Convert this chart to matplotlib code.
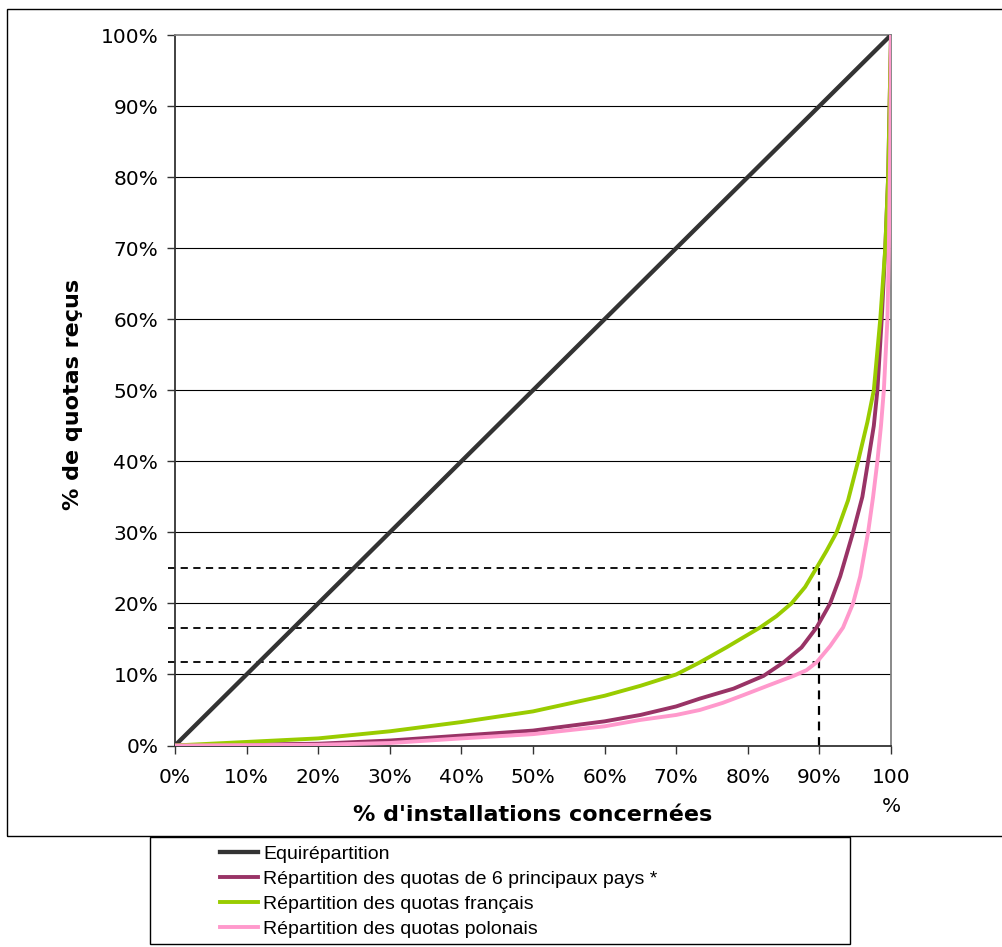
import matplotlib
matplotlib.use("Agg")
import matplotlib.pyplot as plt
from matplotlib.patches import Rectangle
from matplotlib.ticker import FixedLocator

# ---- data (percent) ----
x_equi = [0, 100]
y_equi = [0, 100]

x_six = [0, 20, 30, 40, 50, 60, 65, 70, 73.3, 78, 82.2, 85, 87.5, 89.6, 91.5, 92.9, 94.7, 96, 96.8, 97.6, 98.1, 98.7, 99.2, 99.6, 100]
y_six = [0, 0.25, 0.7, 1.4, 2.1, 3.4, 4.3, 5.5, 6.6, 8.0, 9.8, 11.7, 13.8, 16.6, 20, 23.8, 30, 35, 40, 45, 50, 60, 70, 80, 100]

x_fr = [0, 10, 20, 30, 40, 50, 60, 65, 70, 73.3, 77, 81.7, 84, 86.1, 88, 89.6, 91, 92.4, 94, 95.4, 96.7, 97.6, 98.5, 99.2, 99.6, 99.8, 100]
y_fr = [0, 0.5, 1.0, 2.0, 3.3, 4.8, 7.0, 8.4, 10.0, 11.7, 13.8, 16.6, 18.2, 20, 22.3, 25, 27.4, 30, 34.5, 40, 45.5, 50, 60, 70, 80, 90, 100]

x_pl = [0, 20, 30, 40, 50, 60, 65, 70, 73.3, 76.5, 79.4, 83, 86.4, 88.2, 89.6, 91.5, 93.3, 94.7, 95.7, 96.8, 97.5, 98.1, 98.6, 99.0, 99.5, 99.7, 99.9, 100]
y_pl = [0, 0.1, 0.35, 1.0, 1.6, 2.7, 3.6, 4.3, 5.0, 6.0, 7.1, 8.5, 9.8, 10.6, 11.7, 14, 16.6, 20, 23.8, 30, 35, 40, 45, 50, 60, 70, 85, 100]

ref_x = 90
ref_levels = [25.0, 16.6, 11.7]

x_ticks = [0, 10, 20, 30, 40, 50, 60, 70, 80, 90, 100]
x_tick_labels = ["0%", "10%", "20%", "30%", "40%", "50%", "60%", "70%", "80%", "90%", "100\n%"]
y_ticks = [0, 10, 20, 30, 40, 50, 60, 70, 80, 90, 100]
y_tick_labels = ["0%", "10%", "20%", "30%", "40%", "50%", "60%", "70%", "80%", "90%", "100%"]

labels = ["Equirépartition",
          "Répartition des quotas de 6 principaux pays *",
          "Répartition des quotas français",
          "Répartition des quotas polonais"]
colors = ["#333333", "#993366", "#99CC00", "#FF99CC"]

W, H = 1003, 947
plt.rcParams['font.family'] = ['DejaVu Sans']
fig = plt.figure(figsize=(W / 100, H / 100), dpi=100)

# outer chart frame
fig.patches.append(Rectangle((7 / W, 1 - 836 / H), 1.2, (836 - 9) / H,
                             transform=fig.transFigure, fill=False,
                             edgecolor="black", linewidth=1.0, clip_on=False))
# legend box
fig.patches.append(Rectangle((150 / W, 1 - 944 / H), 700 / W, (944 - 837) / H,
                             transform=fig.transFigure, fill=False,
                             edgecolor="black", linewidth=1.0, clip_on=False))

ax = fig.add_axes([175 / W, 1 - 745.5 / H, (891 - 175) / W, (745.5 - 35) / H])
ax.set_xlim(0, 100)
ax.set_ylim(0, 100)

for y in y_ticks[1:-1]:
    ax.axhline(y, color="black", linewidth=0.8, zorder=1)

# reference dashed lines
for lv in ref_levels:
    ax.plot([-1, ref_x], [lv, lv], color="black", linewidth=1.3,
            linestyle=(0, (4, 3)), clip_on=False, zorder=2)
ax.plot([ref_x, ref_x], [0, max(ref_levels)], color="black", linewidth=1.6,
        linestyle=(0, (4, 3)), zorder=2)

lines = []
lines += ax.plot(x_equi, y_equi, color=colors[0], linewidth=3.1, zorder=3)
lines += ax.plot(x_six, y_six, color=colors[1], linewidth=2.8, zorder=4)
lines += ax.plot(x_fr, y_fr, color=colors[2], linewidth=2.8, zorder=4)
lines += ax.plot(x_pl, y_pl, color=colors[3], linewidth=2.8, zorder=5)

ax.xaxis.set_major_locator(FixedLocator(x_ticks))
ax.yaxis.set_major_locator(FixedLocator(y_ticks))
ax.set_xticklabels(x_tick_labels, fontsize=14.5, linespacing=1.7, va="top")
ax.set_yticklabels(y_tick_labels, fontsize=14.5)
ax.tick_params(axis="both", direction="out", length=6, width=1, color="#333333", pad=6)
ax.tick_params(axis="x", pad=10)

for s in ["top", "right"]:
    ax.spines[s].set_color("#808080")
    ax.spines[s].set_linewidth(1.3)
for s in ["left", "bottom"]:
    ax.spines[s].set_color("#333333")
    ax.spines[s].set_linewidth(1.3)

ax.set_xlabel("% d'installations concernées", fontsize=16, fontweight="bold")
ax.set_ylabel("% de quotas reçus", fontsize=16, fontweight="bold")
ax.xaxis.label.set_va("center")
ax.yaxis.label.set_va("center")
ax.xaxis.set_label_coords((533 - 175) / 716, (745.5 - 815) / 710.5)
ax.yaxis.set_label_coords((73 - 175) / 716, (745.5 - 394) / 710.5)

fig.legend(lines, labels, loc="upper left",
           bbox_to_anchor=(220 / W, 1 - 845 / H), bbox_transform=fig.transFigure,
           frameon=False, prop={"family": "Liberation Sans", "size": 14},
           handlelength=1.95, handletextpad=0.26,
           labelspacing=0.38, borderpad=0, borderaxespad=0)

fig.savefig("out.png", dpi=100)
